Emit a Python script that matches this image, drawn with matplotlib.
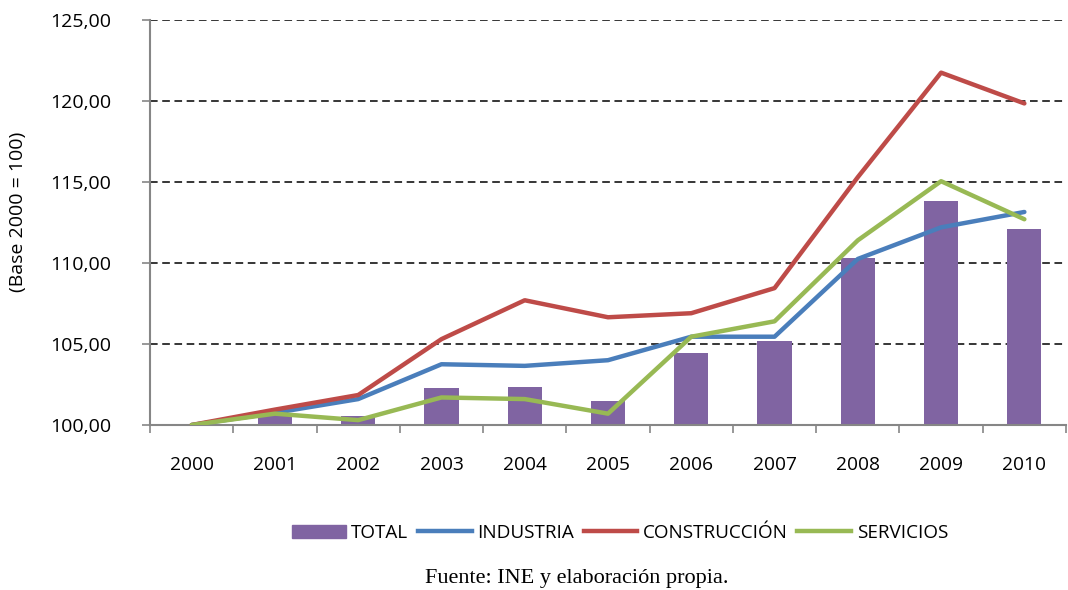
import numpy as np
import matplotlib.pyplot as plt
from matplotlib.ticker import FixedLocator, FuncFormatter
from matplotlib.patches import Patch
from matplotlib.lines import Line2D

years = ["2000", "2001", "2002", "2003", "2004", "2005", "2006", "2007", "2008", "2009", "2010"]
total = [100.0, 100.7, 100.55, 102.3, 102.35, 101.5, 104.45, 105.2, 110.3, 113.8, 112.1]
industria = [100.0, 100.75, 101.6, 103.75, 103.65, 104.0, 105.45, 105.45, 110.25, 112.2, 113.15]
construccion = [100.0, 100.95, 101.85, 105.3, 107.7, 106.65, 106.9, 108.45, 115.3, 121.75, 119.85]
servicios = [100.0, 100.7, 100.3, 101.7, 101.6, 100.7, 105.45, 106.4, 111.4, 115.05, 112.7]

c_total = "#8064A2"
c_ind = "#4A7EBB"
c_con = "#BE4B48"
c_ser = "#98B954"

plt.rcParams['font.family'] = ['Open Sans', 'DejaVu Sans']

fig = plt.figure(figsize=(10.68, 5.9), dpi=100)
ax = fig.add_axes([150 / 1068, 1 - 425 / 590, (1066 - 150) / 1068, (425 - 20) / 590])

x = np.arange(len(years))
ax.bar(x, np.array(total) - 100, bottom=100, width=0.41, color=c_total, zorder=2)
ax.plot(x, industria, color=c_ind, lw=3.2, solid_capstyle='round', zorder=3)
ax.plot(x, construccion, color=c_con, lw=3.2, solid_capstyle='round', zorder=3)
ax.plot(x, servicios, color=c_ser, lw=3.2, solid_capstyle='round', zorder=4)

ax.set_xlim(-0.5, len(years) - 0.5)
ax.set_ylim(100, 125)
ax.set_yticks([100, 105, 110, 115, 120, 125])
ax.yaxis.set_major_formatter(FuncFormatter(lambda v, p: f"{v:.2f}".replace(".", ",")))
for v in [105, 110, 115, 120, 125]:
    ax.axhline(v, color="black", lw=1.1, ls=(0, (5, 3)), zorder=1)

ax.xaxis.set_major_locator(FixedLocator(np.arange(-0.5, len(years), 1.0)))
ax.xaxis.set_minor_locator(FixedLocator(x))
ax.set_xticklabels([], minor=False)
ax.set_xticklabels(years, minor=True)
ax.tick_params(axis='x', which='major', length=6, color="#868686", width=1.2)
ax.tick_params(axis='x', which='minor', length=0, pad=22.5, labelsize=13.8)
ax.tick_params(axis='y', length=6, color="#868686", width=1.2, labelsize=14, pad=22)

for s in ["top", "right"]:
    ax.spines[s].set_visible(False)
for s in ["left", "bottom"]:
    ax.spines[s].set_color("#868686")
    ax.spines[s].set_linewidth(1.5)

fig.text(18 / 1068, 1 - 212 / 590, "(Base 2000 = 100)", rotation=90, ha="center", va="center", fontsize=14)

handles = [Patch(color=c_total), Line2D([], [], color=c_ind, lw=3.2),
           Line2D([], [], color=c_con, lw=3.2), Line2D([], [], color=c_ser, lw=3.2)]
fig.legend(handles, ["TOTAL", "INDUSTRIA", "CONSTRUCCIÓN", "SERVICIOS"], ncol=4, frameon=False,
           loc="center", bbox_to_anchor=(620 / 1068, 1 - 533 / 590), fontsize=13.6,
           handlelength=2.85, handletextpad=0.3, columnspacing=0.5)

fig.text(577 / 1068, 1 - 578 / 590, "Fuente: INE y elaboración propia.", ha="center", va="center",
         fontsize=16, family=["Liberation Serif", "DejaVu Serif"])

fig.savefig("out.png", dpi=100)
